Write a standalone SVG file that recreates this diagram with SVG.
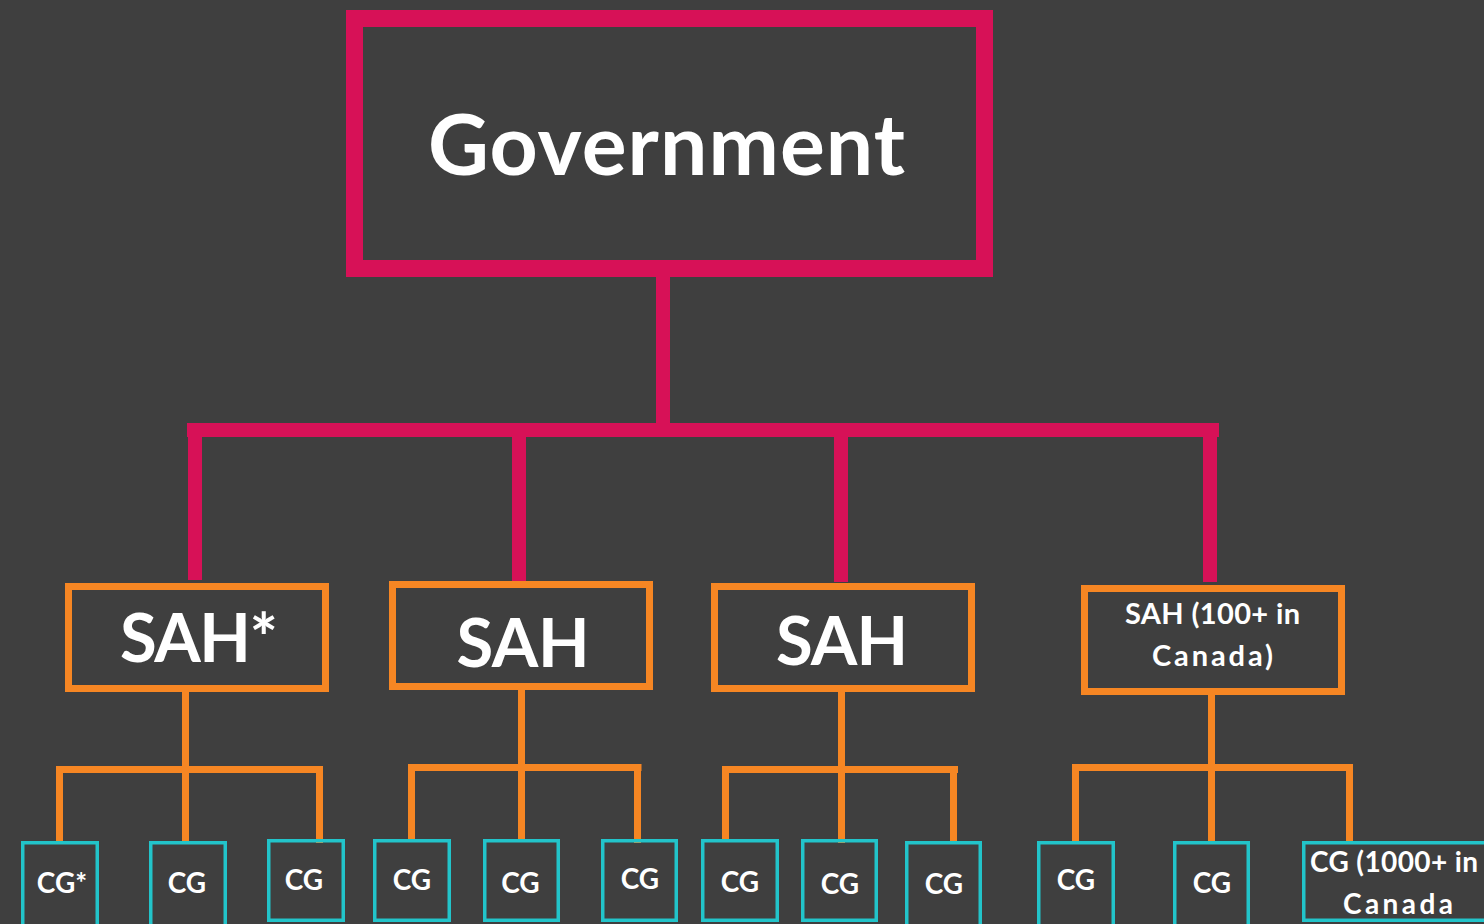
<svg xmlns="http://www.w3.org/2000/svg" width="1484" height="924" viewBox="0 0 1484 924">
<style>
.t{font-family:Lato,"Open Sans","Liberation Sans",sans-serif;font-weight:700;fill:#ffffff;text-anchor:middle}
.ts{text-anchor:start}
.gov{fill:none;stroke:#D71157;stroke-width:17}
.sah{fill:none;stroke:#F68623;stroke-width:7}
.cg{fill:none;stroke:#22C4CA;stroke-width:3.5}
.red{fill:none;stroke:#D71157;stroke-width:14}
.org{fill:none;stroke:#F68623;stroke-width:7}
</style>
<rect x="0" y="0" width="1484" height="924" fill="#3F3F3F"/>
<g id="connectors">
<path class="red" d="M663 277V430M187 430H1219M195 437V580M519 437V581M841 437V582M1210 437V582"/>
<path class="org" d="M185.5 692V770M56 769.5H323M59.5 773V841M185.5 773V841M319.5 773V843"/>
<path class="org" d="M521.5 690V768M408 767.5H641.5M411.5 771V839M521.5 771V839M637.5 771V843"/>
<path class="org" d="M841.5 692V770M722 769.5H958M725.5 773V839M841.5 773V843M953.5 773V841"/>
<path class="org" d="M1211.5 695V768M1072 767.5H1353M1075.5 771V841M1211.5 771V841M1349.5 771V841"/>
</g>
<g id="government">
<rect class="gov" x="354.5" y="18.5" width="630" height="250"/>
<text class="t" x="666.5" y="175" font-size="84" textLength="477">Government</text>
</g>
<g id="sah1">
<rect class="sah" x="68.5" y="586.5" width="257" height="102"/>
<text class="t" x="199" y="662" font-size="67" textLength="158">SAH*</text>
</g>
<g id="sah2">
<rect class="sah" x="392.5" y="584.5" width="257" height="102"/>
<text class="t" x="523" y="667" font-size="67" textLength="133">SAH</text>
</g>
<g id="sah3">
<rect class="sah" x="714.5" y="586.5" width="257" height="102"/>
<text class="t" x="842" y="665" font-size="67" textLength="132">SAH</text>
</g>
<g id="sah4">
<rect class="sah" x="1084.5" y="588.5" width="257" height="103"/>
<text class="t" x="1212.5" y="624" font-size="29" textLength="175">SAH (100+ in</text>
<text class="t" x="1212.5" y="666" font-size="29" textLength="121">Canada)</text>
</g>
<g id="cg1"><rect class="cg" x="22.75" y="842.75" width="74.5" height="100"/><text class="t" x="62" y="893" font-size="28">CG*</text></g>
<g id="cg2"><rect class="cg" x="150.75" y="842.75" width="74.5" height="100"/><text class="t" x="187" y="893" font-size="28">CG</text></g>
<g id="cg3"><rect class="cg" x="268.75" y="840.75" width="74.5" height="79.5"/><text class="t" x="304" y="890" font-size="28">CG</text></g>
<g id="cg4"><rect class="cg" x="374.75" y="840.75" width="74.5" height="79.5"/><text class="t" x="412" y="890" font-size="28">CG</text></g>
<g id="cg5"><rect class="cg" x="484.75" y="840.75" width="73.5" height="79.5"/><text class="t" x="520.5" y="893" font-size="28">CG</text></g>
<g id="cg6"><rect class="cg" x="602.75" y="840.75" width="73.5" height="79.5"/><text class="t" x="640" y="889" font-size="28">CG</text></g>
<g id="cg7"><rect class="cg" x="702.75" y="840.75" width="74.5" height="79.5"/><text class="t" x="740" y="892" font-size="28">CG</text></g>
<g id="cg8"><rect class="cg" x="802.75" y="840.75" width="73.5" height="79.5"/><text class="t" x="840" y="894" font-size="28">CG</text></g>
<g id="cg9"><rect class="cg" x="906.75" y="842.75" width="73.5" height="100"/><text class="t" x="944" y="894" font-size="28">CG</text></g>
<g id="cg10"><rect class="cg" x="1038.75" y="842.75" width="74.5" height="100"/><text class="t" x="1076" y="890" font-size="28">CG</text></g>
<g id="cg11"><rect class="cg" x="1174.75" y="842.75" width="73.5" height="100"/><text class="t" x="1212" y="893" font-size="28">CG</text></g>
<g id="cg12"><rect class="cg" x="1303.75" y="842.75" width="220" height="77.5"/><text class="t ts" x="1310" y="872" font-size="28" textLength="168">CG (1000+ in</text><text class="t" x="1398" y="914" font-size="28" textLength="110">Canada</text></g>
</svg>
